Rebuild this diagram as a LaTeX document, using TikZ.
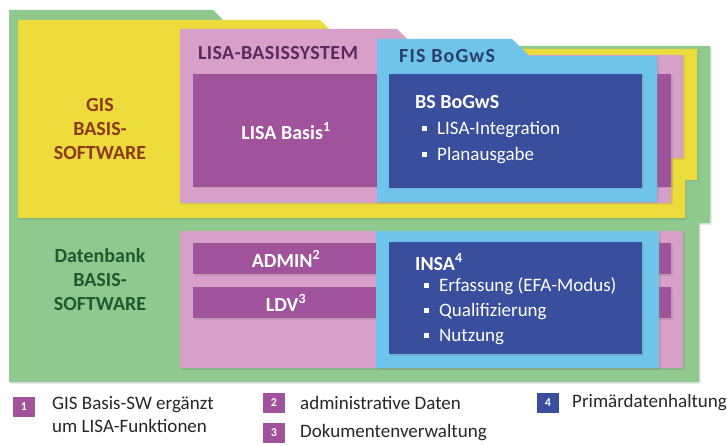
\documentclass[tikz,border=0pt]{standalone}
\usepackage{fontspec}
\setmainfont{Carlito}
\usetikzlibrary{shadows}

\definecolor{outergreen}{RGB}{143,201,142}
\definecolor{gisyellow}{RGB}{235,219,59}
\definecolor{lisapink}{RGB}{215,160,200}
\definecolor{lisaviolet}{RGB}{160,82,154}
\definecolor{fisblue}{RGB}{110,196,234}
\definecolor{bsblue}{RGB}{58,78,158}
\definecolor{gisbrown}{RGB}{140,58,26}
\definecolor{dbgreen}{RGB}{30,90,45}
\definecolor{lisatext}{RGB}{90,42,95}
\definecolor{fistext}{RGB}{43,61,107}

\tikzstyle{layer} = [drop shadow={opacity=0.25, shadow xshift=1.5pt, shadow yshift=-1.5pt}]
\tikzstyle{btext} = [inner sep=0, font=\fontsize{20}{24}\selectfont\bfseries]
\tikzstyle{wtext} = [btext, text=white]
\tikzstyle{itext} = [inner sep=0, anchor=west, text=white, font=\fontsize{19}{23}\selectfont]
\tikzstyle{keybox} = [inner sep=0, minimum width=22pt, minimum height=20pt, text=white, font=\fontsize{12}{14}\selectfont\bfseries]
\tikzstyle{ktext} = [inner sep=0, anchor=west, align=left, text=black!85, font=\fontsize{19}{23}\selectfont]

\newcommand{\sqbul}{\llap{\rule[0.2em]{5pt}{5pt}\hspace{10pt}}}

\begin{document}
\begin{tikzpicture}[x=1pt, y=-1pt]
    \useasboundingbox (0,0) rectangle (727,446);

    % folders
    \fill[outergreen, layer] (9,10) -- (213,10) -- (249,46) -- (710,46) -- (710,223) -- (699,223) -- (699,382) -- (9,382) -- cycle;
    \fill[gisyellow, layer] (18,20) -- (320,20) -- (349,49) -- (697,49) -- (697,180) -- (685,180) -- (685,218) -- (18,218) -- cycle;
    \fill[lisapink, layer] (180,29) -- (397,29) -- (423,55) -- (683,55) -- (683,158) -- (671,158) -- (671,203) -- (180,203) -- cycle;
    \fill[lisaviolet, layer] (193,74) rectangle (671,187);
    \fill[fisblue, layer] (377,39) -- (512,39) -- (529,56) -- (657,56) -- (657,202) -- (377,202) -- cycle;
    \fill[bsblue, layer] (389,74) rectangle (642,188);

    \fill[lisapink, layer] (180,231) rectangle (683,368);
    \fill[lisaviolet, layer] (193,243) rectangle (671,274);
    \fill[lisaviolet, layer] (193,287) rectangle (671,318);
    \fill[fisblue, layer] (376,231) rectangle (659,368);
    \fill[bsblue, layer] (389,242) rectangle (642,354);

    % labels
    \node[btext, text=gisbrown, align=center] (gis) at (100,129) {GIS\\BASIS-\\SOFTWARE};
    \node[btext, text=dbgreen, align=center] (db) at (100,280) {Datenbank\\BASIS-\\SOFTWARE};
    \node[btext, text=lisatext] (lisahead) at (278,53) {\addfontfeature{LetterSpace=2}LISA-BASISSYSTEM};
    \node[btext, text=fistext, anchor=west] (fishead) at (399,56) {\addfontfeature{LetterSpace=6}FIS BoGwS};

    \node[wtext] (lisa) at (286,131) {LISA Basis\textsuperscript{1}};
    \node[wtext] (admin) at (286,259) {ADMIN\textsuperscript{2}};
    \node[wtext] (ldv) at (286,303) {LDV\textsuperscript{3}};

    \node[wtext, anchor=west] (bs) at (415,102) {BS BoGwS};
    \node[itext] (bsa) at (437,130) {\sqbul LISA-Integration};
    \node[itext] (bsb) at (437,156) {\sqbul Planausgabe};

    \node[wtext, anchor=west] (insa) at (415,262) {INSA\textsuperscript{4}};
    \node[itext] (insaa) at (439,286) {\sqbul Erfassung (EFA-Modus)};
    \node[itext] (insab) at (439,312) {\sqbul Qualifizierung};
    \node[itext] (insac) at (439,337) {\sqbul Nutzung};

    % legend
    \node[keybox, fill=lisaviolet] (k1) at (24,407) {1};
    \node[ktext] (t1) at (52,415) {GIS Basis-SW ergänzt\\um LISA-Funktionen};
    \node[keybox, fill=lisaviolet] (k2) at (274,403) {2};
    \node[ktext] (t2) at (300,403) {administrative Daten};
    \node[keybox, fill=lisaviolet] (k3) at (274,433) {3};
    \node[ktext] (t3) at (300,433) {Dokumentenverwaltung};
    \node[keybox, fill=bsblue] (k4) at (548,403) {4};
    \node[ktext] (t4) at (572,403) {Primärdatenhaltung};
\end{tikzpicture}
\end{document}
